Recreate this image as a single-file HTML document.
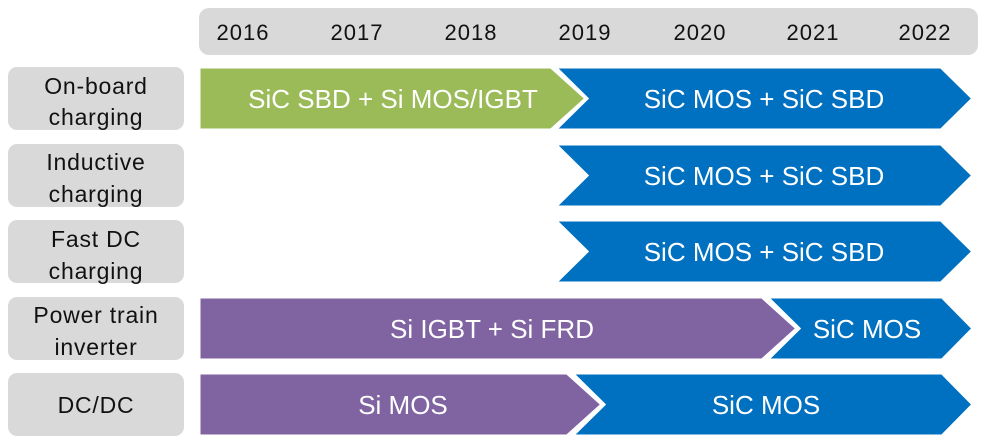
<!DOCTYPE html>
<html><head><style>body{margin:0;background:#fff}svg{display:block}text{font-family:"Liberation Sans",sans-serif}</style></head><body>
<svg width="986" height="443" viewBox="0 0 986 443">
<rect x="199" y="8" width="779" height="47" rx="10" fill="#d9d9d9"/>
<g font-size="22" fill="#111" text-anchor="middle" letter-spacing="1">
<text x="243" y="40">2016</text><text x="357" y="40">2017</text><text x="471" y="40">2018</text><text x="585" y="40">2019</text><text x="700" y="40">2020</text><text x="813" y="40">2021</text><text x="925" y="40">2022</text></g>
<g fill="#d9d9d9">
<rect x="8" y="67" width="176" height="63" rx="9"/><rect x="8" y="144" width="176" height="63" rx="9"/><rect x="8" y="220" width="176" height="63" rx="9"/><rect x="8" y="297" width="176" height="63" rx="9"/><rect x="8" y="373" width="176" height="63" rx="9"/></g>
<g font-size="23" fill="#111" text-anchor="middle" letter-spacing="0.8">
<text x="96" y="94">On-board</text><text x="96" y="125">charging</text>
<text x="96" y="170">Inductive</text><text x="96" y="202">charging</text>
<text x="96" y="247">Fast DC</text><text x="96" y="279">charging</text>
<text x="96" y="323">Power train</text><text x="96" y="355">inverter</text>
<text x="96" y="413">DC/DC</text></g>
<g fill="#0070c0" stroke="#fff" stroke-width="3">
<polygon points="555,67 941,67 973,98.5 941,130 555,130 587,98.5"/>
<polygon points="555,144 941,144 973,175.5 941,207 555,207 587,175.5"/>
<polygon points="555,220 941,220 973,251.5 941,283 555,283 587,251.5"/>
<polygon points="767,297 942,297 973,328.5 942,360 767,360 799,328.5"/>
<polygon points="572,373 942,373 973,404.5 942,436 572,436 604,404.5"/>
</g>
<g stroke="#fff" stroke-width="3">
<polygon fill="#9bbb59" points="199,67 551,67 586,98.5 551,130 199,130"/>
<polygon fill="#8064a2" points="199,297 762,297 797,328.5 762,360 199,360"/>
<polygon fill="#8064a2" points="199,373 567,373 602,404.5 567,436 199,436"/>
</g>
<g font-size="26" fill="#fff" text-anchor="middle">
<text x="393" y="108">SiC SBD + Si MOS/IGBT</text>
<text x="764" y="108">SiC MOS + SiC SBD</text>
<text x="764" y="185">SiC MOS + SiC SBD</text>
<text x="764" y="261">SiC MOS + SiC SBD</text>
<text x="492" y="338">Si IGBT + Si FRD</text>
<text x="867" y="338">SiC MOS</text>
<text x="403" y="414">Si MOS</text>
<text x="766" y="414">SiC MOS</text>
</g>
</svg>
</body></html>
